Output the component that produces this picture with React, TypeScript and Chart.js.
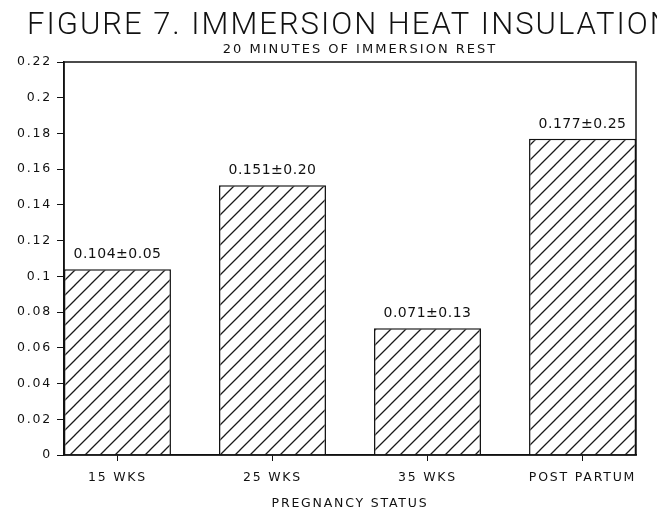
import React, { useEffect, useRef } from 'react';
import { Chart, registerables } from 'chart.js';

Chart.register(...registerables);

// Figure text
const TITLE = 'FIGURE 7. IMMERSION HEAT INSULATION';
const SUBTITLE = '20 MINUTES OF IMMERSION REST';
const X_TITLE = 'PREGNANCY STATUS';

// Groups along the x axis
const categories = ['15 WKS', '25 WKS', '35 WKS', 'POST PARTUM'];
// Mean insulation for each group
const means = [0.104, 0.151, 0.071, 0.177];
// Spread reported next to each mean
const spreads = [0.05, 0.2, 0.13, 0.25];
// Y axis tick values
const yTicks = [0, 0.02, 0.04, 0.06, 0.08, 0.1, 0.12, 0.14, 0.16, 0.18, 0.2, 0.22];

const INK = '#111';
const AXIS_FONT = { family: '"DejaVu Sans", sans-serif', size: 12.5 };

function makeHatch(): CanvasPattern | string {
  const size = 15;
  const c = document.createElement('canvas');
  c.width = size;
  c.height = size;
  const g = c.getContext('2d');
  if (!g) return '#fff';
  g.fillStyle = '#fff';
  g.fillRect(0, 0, size, size);
  g.strokeStyle = '#1a1a1a';
  g.lineWidth = 1.3;
  g.beginPath();
  g.moveTo(-2, size + 2);
  g.lineTo(size + 2, -2);
  g.moveTo(-2, 2);
  g.lineTo(2, -2);
  g.moveTo(size - 2, size + 2);
  g.lineTo(size + 2, size - 2);
  g.stroke();
  return g.createPattern(c, 'repeat') || '#fff';
}

// Wide letter spacing for the axis text
const spacingPlugin = {
  id: 'tickSpacing',
  beforeUpdate(chart: any) {
    chart.ctx.letterSpacing = '1.8px';
  },
  beforeDraw(chart: any) {
    chart.ctx.letterSpacing = '1.8px';
  },
};

const framePlugin = {
  id: 'plotFrame',
  afterDatasetsDraw(chart: any) {
    const { ctx, chartArea } = chart;
    ctx.save();
    ctx.strokeStyle = INK;
    ctx.lineWidth = 1.5;
    ctx.strokeRect(chartArea.left, chartArea.top, chartArea.right - chartArea.left, chartArea.bottom - chartArea.top);
    ctx.restore();
  },
};

const valueLabelPlugin = {
  id: 'valueLabels',
  afterDatasetsDraw(chart: any) {
    const { ctx } = chart;
    const meta = chart.getDatasetMeta(0);
    ctx.save();
    ctx.fillStyle = INK;
    ctx.font = '14px "DejaVu Sans", sans-serif';
    ctx.letterSpacing = '0.5px';
    ctx.textAlign = 'center';
    ctx.textBaseline = 'alphabetic';
    meta.data.forEach((bar: any, i: number) => {
      const text = `${means[i].toFixed(3)}±${spreads[i].toFixed(2)}`;
      ctx.fillText(text, bar.x, bar.y - 11);
    });
    ctx.restore();
  },
};

const headingPlugin = {
  id: 'headings',
  afterDraw(chart: any) {
    const { ctx, chartArea } = chart;
    ctx.save();
    ctx.fillStyle = INK;
    ctx.textBaseline = 'alphabetic';
    ctx.font = '300 31px Roboto, "DejaVu Sans", sans-serif';
    ctx.letterSpacing = '2px';
    ctx.textAlign = 'left';
    ctx.fillText(TITLE, 27, 34);
    ctx.font = '13px "DejaVu Sans", sans-serif';
    ctx.letterSpacing = '2px';
    ctx.textAlign = 'center';
    ctx.fillText(SUBTITLE, (chartArea.left + chartArea.right) / 2 + 10, 53);
    ctx.restore();
  },
};

export default function App() {
  const canvasRef = useRef<HTMLCanvasElement | null>(null);

  useEffect(() => {
    const canvas = canvasRef.current;
    if (!canvas) return;
    const hatch = makeHatch();

    const chart = new Chart(canvas, {
      type: 'bar',
      data: {
        datasets: [
          {
            data: means.map((m, i) => ({ x: i + 1, y: m })),
            backgroundColor: hatch as any,
            borderColor: INK,
            borderWidth: 1.5,
            borderSkipped: 'bottom',
            categoryPercentage: 1,
            barPercentage: 0.69,
          },
        ],
      },
      options: {
        animation: false,
        responsive: true,
        maintainAspectRatio: false,
        layout: { padding: { left: 0, top: 62, right: 21, bottom: 0 } },
        plugins: {
          legend: { display: false },
          tooltip: { enabled: false },
          title: { display: false },
        },
        scales: {
          x: {
            type: 'linear',
            min: 0.655,
            max: 4.345,
            offset: false,
            afterBuildTicks: (scale: any) => {
              scale.ticks = categories.map((_, i) => ({ value: i + 1 }));
            },
            afterFit: (scale: any) => {
              scale.height = 65;
            },
            ticks: {
              autoSkip: false,
              maxRotation: 0,
              color: INK,
              font: AXIS_FONT,
              padding: 9,
              callback: (v: any) => categories[Math.round(Number(v)) - 1] ?? '',
            },
            grid: {
              offset: false,
              drawOnChartArea: false,
              drawTicks: true,
              tickLength: 6,
              color: INK,
              lineWidth: 1,
            },
            border: { display: true, color: INK, width: 1.5 },
            title: {
              display: true,
              text: X_TITLE,
              color: INK,
              font: AXIS_FONT,
              padding: { top: 0, bottom: 9 },
            },
          },
          y: {
            type: 'linear',
            min: 0,
            max: 0.22,
            afterBuildTicks: (scale: any) => {
              scale.ticks = yTicks.map((v) => ({ value: v }));
            },
            afterFit: (scale: any) => {
              scale.width = 64;
            },
            ticks: {
              color: INK,
              font: AXIS_FONT,
              padding: 5,
              callback: (v: any) => String(Number(Number(v).toFixed(2))),
            },
            grid: {
              drawOnChartArea: false,
              drawTicks: true,
              tickLength: 7,
              color: INK,
              lineWidth: 1,
            },
            border: { display: true, color: INK, width: 1.5 },
          },
        },
      },
      plugins: [spacingPlugin, framePlugin, valueLabelPlugin, headingPlugin],
    });

    return () => chart.destroy();
  }, []);

  return (
    <div style={{ position: 'absolute', left: 0, top: 0, width: 657, height: 520, background: '#fff' }}>
      <canvas ref={canvasRef} />
    </div>
  );
}
